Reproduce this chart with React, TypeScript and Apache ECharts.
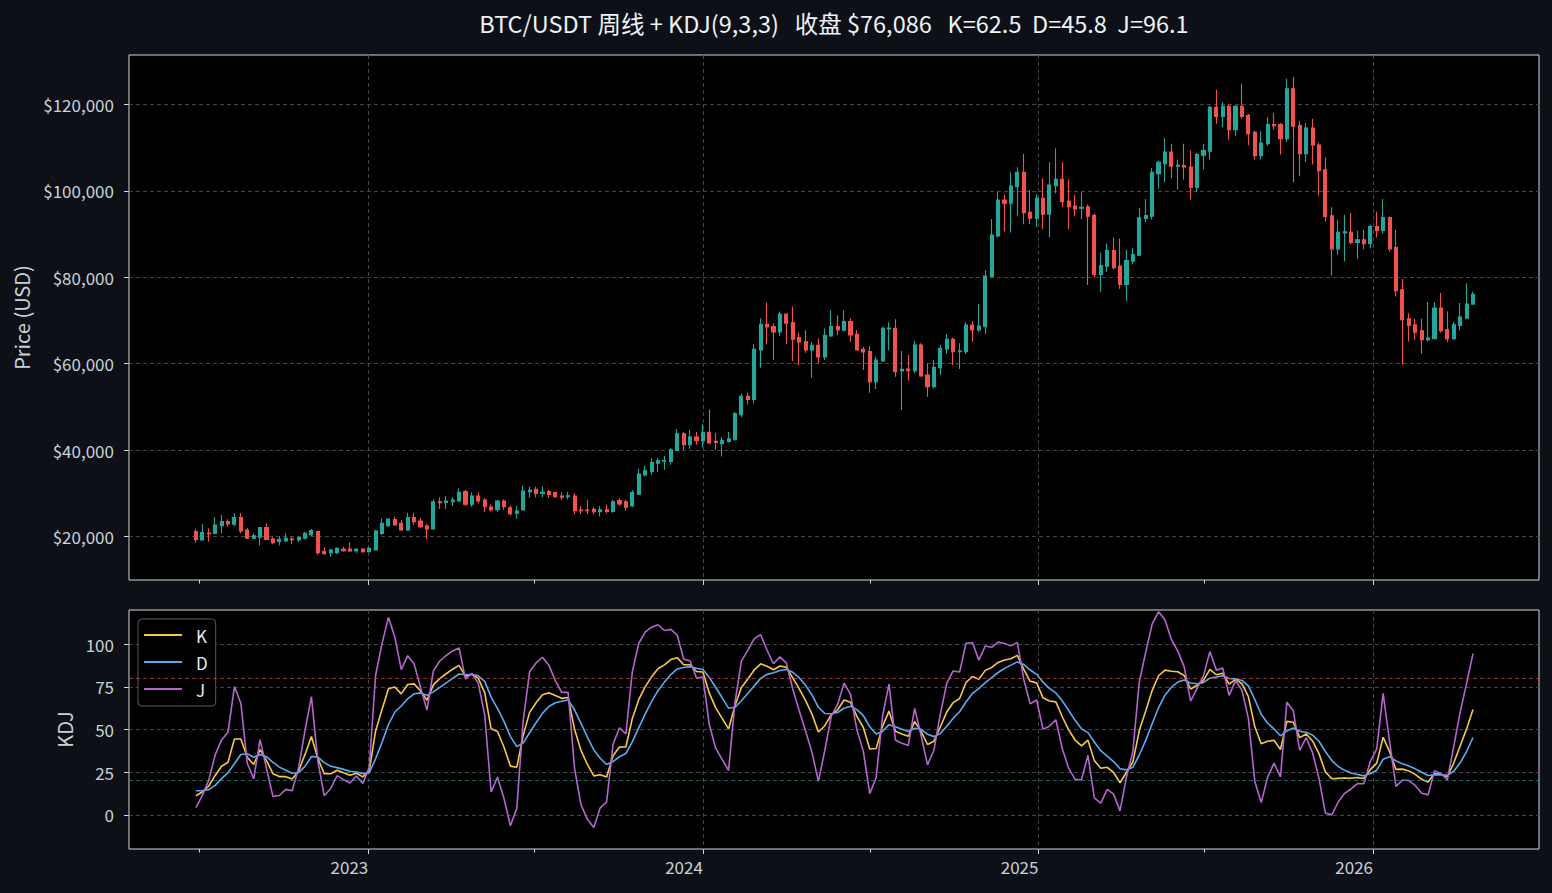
import React, { useEffect, useRef } from 'react';
import * as echarts from 'echarts';

// ---- data ----
const firstWeek = [2022, 5, 27]; // week of 2022-06-27 (month is 0-based)
const weekCount = 200;

const opens = [
  21120, 19190, 20810, 20730, 22510, 23440, 22820, 24360, 21510, 19580,
  19810, 22050, 19420, 18880, 18960, 19420, 19190, 19580, 20430, 21120,
  16490, 16260, 16260, 17030, 17110, 16720, 17110, 16490, 16870, 20730,
  22510, 23900, 23050, 21500, 24360, 23590, 22430, 21740, 28060, 27910,
  28060, 28220, 30380, 27450, 29380, 28450, 26790, 26180, 28220, 26640,
  25400, 26140, 30380, 30920, 29990, 30380, 30150, 29380, 29220, 29380,
  26140, 26140, 26290, 25750, 26180, 25790, 28300, 28060, 27060, 29800,
  34270, 35040, 36980, 37440, 37370, 39920, 43800, 41240, 43020, 42170,
  44110, 42020, 41470, 42020, 42400, 48220, 52480, 51700, 63170, 69140,
  68600, 67360, 71470, 69530, 66040, 65110, 63170, 64260, 61550, 66430,
  68600, 67750, 69760, 66820, 63330, 62790, 55840, 60620, 68030, 68190,
  58310, 58770, 58380, 64330, 57380, 54680, 59080, 63400, 65640, 62790,
  62790, 68960, 67800, 68570, 80150, 89570, 97910, 97140, 101000, 104320,
  95050, 93660, 98300, 94590, 101230, 102700, 97680, 96520, 95980, 96300,
  94300, 80660, 82580, 86200, 82580, 78340, 83740, 85130, 93600, 94140,
  104010, 106320, 109020, 105700, 105860, 105550, 100850, 108250, 109170, 119340,
  117260, 119580, 114180, 119580, 117500, 113560, 108170, 110940, 115340, 115340,
  112100, 123660, 115110, 108630, 114570, 110640, 104860, 94220, 86590, 90290,
  90440, 88050, 88670, 87750, 91750, 90830, 93830, 86900, 77110, 70410,
  69020, 67630, 65550, 65780, 72870, 67860, 65780, 68860, 70560, 73800,
];

const highs = [
  21660, 22900, 21890, 24440, 24980, 23980, 25370, 25370, 22050, 20730,
  22120, 23050, 19850, 20000, 20730, 19930, 19960, 21120, 21740, 21270,
  17490, 17110, 17490, 17650, 18650, 17260, 17260, 17650, 21510, 24210,
  24210, 24590, 23820, 25520, 25520, 24210, 22820, 28600, 29070, 29380,
  29070, 31150, 30770, 30230, 30230, 28840, 27410, 28450, 28600, 27180,
  27060, 31770, 31540, 31540, 31650, 30770, 30230, 30230, 30380, 29990,
  27060, 28450, 26750, 27060, 27330, 28450, 28840, 28450, 30770, 35600,
  36360, 38140, 38140, 38610, 40470, 44880, 44190, 44730, 44190, 46120,
  49380, 43950, 43020, 44190, 48840, 53100, 53250, 64490, 70540, 74180,
  69370, 72090, 71700, 73250, 67200, 67750, 65030, 65810, 68130, 72400,
  71230, 72400, 70540, 67750, 63870, 64100, 61630, 68570, 69580, 70270,
  62940, 62010, 65260, 64710, 60080, 60850, 64330, 66880, 66030, 64710,
  69580, 69890, 73820, 81700, 93510, 99840, 99070, 104320, 105480, 108560,
  100230, 99300, 102930, 106630, 109880, 106630, 102700, 99070, 99690, 96840,
  94760, 85670, 87820, 89130, 88980, 86440, 86820, 96070, 98150, 105320,
  107010, 112250, 110940, 107250, 110940, 109330, 108790, 110940, 119730, 123430,
  120580, 120190, 119810, 124820, 117800, 113950, 113800, 117030, 118030, 115720,
  125970, 126360, 116260, 115720, 116720, 111180, 107780, 96220, 93300, 94450,
  94840, 90750, 90980, 92140, 95220, 98150, 94070, 90980, 79650, 71720,
  70410, 70410, 74260, 74260, 76340, 72100, 69630, 74030, 78650, 76730,
];

const lows = [
  18570, 19040, 18800, 20580, 20730, 22280, 22430, 20730, 19420, 19420,
  17920, 19190, 18190, 17920, 18800, 18190, 18800, 19340, 20120, 15720,
  15720, 15330, 15950, 16490, 16490, 16260, 16260, 16490, 16870, 20350,
  22280, 22510, 21270, 21270, 22660, 21890, 19420, 21740, 26370, 26370,
  27060, 28060, 27140, 26910, 27680, 25750, 25790, 25750, 26180, 24860,
  24090, 26140, 28950, 29110, 29110, 28950, 28990, 28450, 28600, 25130,
  25130, 25130, 25130, 24670, 25400, 25480, 27140, 26020, 26910, 29600,
  33880, 34270, 34890, 35430, 36590, 39920, 40080, 40310, 41240, 40620,
  41470, 40080, 38530, 41780, 42250, 47600, 50540, 50770, 59070, 64490,
  60850, 66430, 64490, 60620, 59690, 62550, 56740, 60070, 60850, 66200,
  66580, 67440, 65030, 63100, 58520, 53290, 54140, 60470, 63170, 56990,
  49270, 56070, 57770, 56990, 52360, 54290, 57380, 62240, 59700, 58770,
  62240, 65100, 67420, 66800, 80000, 89190, 90580, 90350, 94050, 92280,
  92350, 91580, 91120, 89260, 99450, 96210, 91120, 94050, 93430, 78190,
  80040, 76570, 81270, 81810, 77340, 74490, 82970, 85130, 92760, 93370,
  100540, 102000, 102850, 100310, 102620, 98000, 99690, 104930, 107250, 115570,
  114720, 111870, 112640, 116720, 110560, 107250, 107250, 110480, 114180, 108400,
  111330, 102000, 103390, 106630, 106090, 98920, 92910, 80420, 85200, 83660,
  87670, 84280, 86510, 86740, 89210, 90060, 85970, 75570, 59770, 65160,
  65550, 62310, 65160, 65780, 67250, 65010, 65550, 67710, 70410, 73640,
];

const closes = [
  19340, 20890, 20660, 22660, 23440, 22900, 24360, 21270, 19580, 20190,
  22050, 19340, 18570, 19340, 19580, 19270, 19730, 20730, 21350, 16260,
  16100, 16870, 17260, 16720, 16640, 17030, 16490, 17260, 21270, 23050,
  24050, 22660, 21500, 24360, 23430, 22280, 21740, 28060, 27830, 28220,
  28450, 30230, 27450, 29380, 28220, 26910, 26180, 28220, 26910, 25250,
  25870, 30530, 30770, 29990, 30230, 29760, 29220, 29070, 29450, 25980,
  25980, 25980, 25750, 26180, 25790, 28060, 27520, 26790, 30150, 34450,
  35200, 37130, 37520, 37600, 40080, 43800, 41240, 43020, 42250, 44110,
  41630, 41780, 42250, 42640, 48450, 52480, 51700, 63330, 69140, 68520,
  67360, 71470, 69370, 65650, 65030, 63170, 64260, 61550, 66580, 68600,
  67820, 69760, 66660, 63170, 62710, 55840, 60850, 68190, 68270, 58150,
  58690, 58380, 64330, 57150, 54680, 59160, 63560, 65640, 62790, 62940,
  68960, 67800, 68730, 80310, 89800, 97910, 97140, 101150, 104320, 94980,
  93660, 98300, 94590, 101380, 102700, 97520, 96370, 95830, 96210, 94140,
  80660, 82740, 86200, 82200, 78340, 83890, 85280, 93760, 94300, 104320,
  106630, 109020, 105700, 105930, 105550, 100850, 108400, 109330, 119340, 117260,
  119580, 114180, 119580, 117260, 113260, 108170, 111100, 115340, 115110, 112100,
  123660, 114950, 108630, 114570, 110560, 104700, 94070, 86590, 90440, 90520,
  88050, 88670, 87750, 91750, 90830, 93830, 86590, 76880, 70170, 68860,
  67320, 65550, 65940, 72870, 67630, 65780, 69020, 70790, 73800, 76086,
];

// KDJ values of the first 9 weeks (their 9-week window
// reaches back before the plotted range); later weeks follow KDJ(9,3,3) from the candles.
const warmK = [11.2, 13.4, 16.9, 23.1, 28.5, 30.8, 44.4, 44.4, 33.7];
const warmD = [14.1, 14.1, 14.8, 17.3, 21.2, 24.7, 29.9, 35.4, 35.8];
const warmJ = [4.2, 11.4, 20.3, 35.1, 43.9, 48.4, 75.1, 65.4, 30.2];

const priceTicks = [20000, 40000, 60000, 80000, 100000, 120000];
const kdjTicks = [0, 25, 50, 75, 100];
const yearLabels = [2023, 2024, 2025, 2026];
const halfYearTickYears = [2022, 2023, 2024, 2025];

const titleText = 'BTC/USDT 周线 + KDJ(9,3,3)   收盘 $76,086   K=62.5  D=45.8  J=96.1';

// ---- derived ----
const DAY = 86400000;
const weekStart = Date.UTC(firstWeek[0], firstWeek[1], firstWeek[2]);
const dates = Array.from({ length: weekCount }, (_, i) => weekStart + i * 7 * DAY);

function computeKDJ() {
  const K: number[] = [];
  const D: number[] = [];
  const J: number[] = [];
  for (let i = 0; i < closes.length; i++) {
    if (i < warmK.length) {
      K.push(warmK[i]);
      D.push(warmD[i]);
      J.push(warmJ[i]);
      continue;
    }
    const lo = Math.min(...lows.slice(i - 8, i + 1));
    const hi = Math.max(...highs.slice(i - 8, i + 1));
    const rsv = hi === lo ? 50 : ((closes[i] - lo) / (hi - lo)) * 100;
    const k = (2 * K[i - 1] + rsv) / 3;
    const d = (2 * D[i - 1] + k) / 3;
    K.push(k);
    D.push(d);
    J.push(3 * k - 2 * d);
  }
  return { K, D, J };
}

const FONT = '"Noto Sans CJK SC", "Noto Sans", sans-serif';
const TXT = '#c9d1d9';
const SPINE = '#d0d7de';
const GRIDC = '#454545';
const UP = '#26a69a';
const DOWN = '#ef5350';
const X_MIN = Date.UTC(2022, 3, 15);
const X_MAX = Date.UTC(2026, 6, 1);

export default function App() {
  const ref = useRef<HTMLDivElement>(null);

  useEffect(() => {
    if (!ref.current) return;
    const chart = echarts.init(ref.current, undefined, { renderer: 'svg' });
    const { K, D, J } = computeKDJ();
    const candleData = dates.map((t, i) => [t, opens[i], closes[i], lows[i], highs[i]]);
    const toLine = (arr: number[]) => dates.map((t, i) => [t, arr[i]]);
    const yearTicks = yearLabels.map((y) => Date.UTC(y, 0, 1));
    const halfTicks = halfYearTickYears.map((y) => Date.UTC(y, 6, 1));

    const dashed = { color: GRIDC, type: [4, 3] as any, width: 1 };

    const mainX = (gridIndex: number, showLabel: boolean) => ({
      type: 'value',
      gridIndex,
      position: 'bottom',
      min: X_MIN,
      max: X_MAX,
      axisLine: { show: false, onZero: false },
      axisTick: { show: true, inside: false, length: 5, lineStyle: { color: SPINE, width: 1 }, customValues: yearTicks },
      axisLabel: {
        show: showLabel,
        customValues: yearTicks,
        formatter: (v: number) => String(new Date(v).getUTCFullYear()),
        align: 'right',
        color: TXT,
        fontSize: 17,
        fontFamily: FONT,
        margin: 9,
      },
      splitLine: { show: true, lineStyle: dashed },
    });
    const minorX = (gridIndex: number) => ({
      type: 'value',
      gridIndex,
      position: 'bottom',
      min: X_MIN,
      max: X_MAX,
      axisLine: { show: false, onZero: false },
      axisTick: { show: true, inside: false, length: 3.5, lineStyle: { color: SPINE, width: 1 }, customValues: halfTicks },
      axisLabel: { show: false },
      splitLine: { show: false },
    });

    const option: any = {
      animation: false,
      backgroundColor: '#0d1117',
      textStyle: { fontFamily: FONT },
      title: {
        text: titleText,
        left: 829,
        top: 6,
        textAlign: 'center',
        textStyle: { color: '#eef2f6', fontSize: 23.5, fontWeight: 'normal', fontFamily: FONT },
      },
      legend: {
        data: ['K', 'D', 'J'],
        orient: 'vertical',
        left: 138,
        top: 619,
        icon: 'rect',
        itemWidth: 38,
        itemHeight: 2,
        itemGap: 9,
        padding: [7, 8, 8, 6],
        backgroundColor: '#000',
        borderColor: '#5a5a5a',
        borderWidth: 1,
        borderRadius: 4,
        textStyle: { color: '#e6edf3', fontSize: 17, fontFamily: FONT, lineHeight: 18, padding: [0, 0, 0, 9] },
      },
      grid: [
        { left: 129, right: 13, top: 55, height: 525, show: true, backgroundColor: '#000', borderColor: SPINE, borderWidth: 1 },
        { left: 129, right: 13, top: 610, height: 239, show: true, backgroundColor: '#000', borderColor: SPINE, borderWidth: 1 },
      ],
      xAxis: [mainX(0, false), mainX(1, true), minorX(0), minorX(1)],
      yAxis: [
        {
          type: 'value',
          gridIndex: 0,
          min: 9930,
          max: 131460,
          name: 'Price (USD)',
          nameLocation: 'middle',
          nameGap: 98,
          nameTextStyle: { color: TXT, fontSize: 20, fontFamily: FONT },
          axisLine: { show: false, onZero: false },
          axisTick: { show: true, length: 5, lineStyle: { color: SPINE }, customValues: priceTicks },
          axisLabel: {
            customValues: priceTicks,
            formatter: (v: number) => '$' + String(Math.round(v)).replace(/\B(?=(\d{3})+(?!\d))/g, ','),
            color: TXT,
            fontSize: 17,
            fontFamily: FONT,
            margin: 15,
          },
          splitLine: { show: true, lineStyle: dashed },
        },
        {
          type: 'value',
          gridIndex: 1,
          min: -20,
          max: 120,
          name: 'KDJ',
          nameLocation: 'middle',
          nameGap: 48.5,
          nameTextStyle: { color: TXT, fontSize: 20, fontFamily: FONT },
          axisLine: { show: false, onZero: false },
          axisTick: { show: true, length: 5, lineStyle: { color: SPINE }, customValues: kdjTicks },
          axisLabel: { customValues: kdjTicks, color: TXT, fontSize: 17, fontFamily: FONT, margin: 15 },
          splitLine: { show: true, lineStyle: dashed },
        },
      ],
      series: [
        {
          type: 'candlestick',
          name: 'BTC',
          xAxisIndex: 0,
          yAxisIndex: 0,
          dimensions: ['date', 'open', 'close', 'lowest', 'highest'],
          encode: { x: 'date', y: ['open', 'close', 'lowest', 'highest'] },
          data: candleData,
          barWidth: 3.6,
          itemStyle: { color: UP, color0: DOWN, borderColor: UP, borderColor0: DOWN, borderWidth: 1.1 },
        },
        {
          type: 'line',
          name: 'K',
          xAxisIndex: 1,
          yAxisIndex: 1,
          data: toLine(K),
          showSymbol: false,
          symbol: 'none',
          color: '#f5c84c',
          lineStyle: { color: '#f5c84c', width: 1.6 },
          markLine: {
            silent: true,
            symbol: 'none',
            label: { show: false },
            data: [
              { yAxis: 80, lineStyle: { color: 'rgba(239,83,80,0.6)', type: [4, 3], width: 1 } },
              { yAxis: 20, lineStyle: { color: 'rgba(38,166,154,0.6)', type: [4, 3], width: 1 } },
            ],
          },
        },
        {
          type: 'line',
          name: 'D',
          xAxisIndex: 1,
          yAxisIndex: 1,
          data: toLine(D),
          showSymbol: false,
          symbol: 'none',
          color: '#5aacf0',
          lineStyle: { color: '#5aacf0', width: 1.6 },
        },
        {
          type: 'line',
          name: 'J',
          xAxisIndex: 1,
          yAxisIndex: 1,
          data: toLine(J),
          showSymbol: false,
          symbol: 'none',
          color: '#b565cf',
          lineStyle: { color: '#b565cf', width: 1.6 },
        },
      ],
    };
    chart.setOption(option);
    return () => chart.dispose();
  }, []);

  return <div ref={ref} style={{ position: 'fixed', left: 0, top: 0, width: 1552, height: 893 }} />;
}
